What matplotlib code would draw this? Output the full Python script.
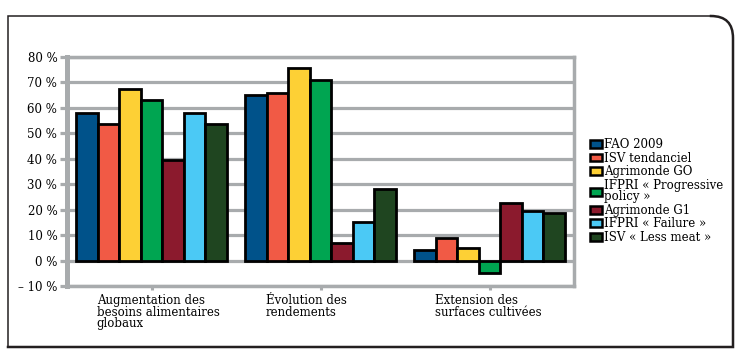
import numpy as np
import matplotlib
matplotlib.use("Agg")
import matplotlib.pyplot as plt
from matplotlib.path import Path
from matplotlib.patches import PathPatch

# Data (%)
categories = [
    "Augmentation des\nbesoins alimentaires\nglobaux",
    "Évolution des\nrendements",
    "Extension des\nsurfaces cultivées",
]
series_names = [
    "FAO 2009",
    "ISV tendanciel",
    "Agrimonde GO",
    "IFPRI « Progressive\npolicy »",
    "Agrimonde G1",
    "IFPRI « Failure »",
    "ISV « Less meat »",
]
fao_2009 = [58, 65, 4]
isv_tendanciel = [53.5, 66, 9]
agrimonde_go = [67.5, 75.5, 5]
ifpri_progressive = [63, 71, -5]
agrimonde_g1 = [39.5, 7, 22.5]
ifpri_failure = [58, 15, 19.5]
isv_less_meat = [53.5, 28, 18.5]
series_values = [fao_2009, isv_tendanciel, agrimonde_go, ifpri_progressive,
                 agrimonde_g1, ifpri_failure, isv_less_meat]
colors = ["#00528a", "#f15a45", "#fdd035", "#00a551", "#8b1a2d", "#4bc9f5", "#1f4520"]
yticks = [-10, 0, 10, 20, 30, 40, 50, 60, 70, 80]
ytick_labels = ["– 10 %", "0 %", "10 %", "20 %", "30 %", "40 %", "50 %", "60 %", "70 %", "80 %"]

W, H = 741, 362
GRAY = "#a8abad"
plt.rcParams["font.family"] = ["DejaVu Serif"]

fig = plt.figure(figsize=(W / 100, H / 100), dpi=100)

# outer frame with rounded top-right corner
def fx(x):
    return x / W

def fy(y):
    return 1 - y / H

r = 22
thin = Path([(fx(733 - r), fy(16)), (fx(8), fy(16)), (fx(8), fy(347))],
            [Path.MOVETO, Path.LINETO, Path.LINETO])
fig.patches.append(PathPatch(thin, transform=fig.transFigure, fill=False,
                             lw=1.1, ec="#231f20"))
thick = Path([(fx(733 - r), fy(16)), (fx(733), fy(16)), (fx(733), fy(16 + r)),
              (fx(733), fy(347)), (fx(8), fy(347))],
             [Path.MOVETO, Path.CURVE3, Path.CURVE3, Path.LINETO, Path.LINETO])
fig.patches.append(PathPatch(thick, transform=fig.transFigure, fill=False,
                             lw=1.8, ec="#231f20", capstyle="projecting"))

ax = fig.add_axes([fx(67), fy(286), (574 - 67) / W, (286 - 57) / H])

x = np.arange(len(categories))
n = len(series_names)
bw = 0.89 / n
for i, (name, vals, c) in enumerate(zip(series_names, series_values, colors)):
    ax.bar(x - 0.445 + bw * (i + 0.5), vals, width=bw, color=c, edgecolor="black",
           linewidth=2.0, label=name, zorder=3)

ax.set_xlim(-0.5, 2.5)
ax.set_ylim(-10, 80)
ax.set_yticks(yticks)
ax.set_yticklabels(ytick_labels)
ax.yaxis.grid(True, color=GRAY, linewidth=2.3, zorder=0)
ax.set_axisbelow(True)
for side in ["left", "right", "top", "bottom"]:
    ax.spines[side].set_color(GRAY)
    ax.spines[side].set_linewidth(2.5)
ax.spines["left"].set_linewidth(3.6)
ax.tick_params(axis="y", length=5, width=2.3, color=GRAY, pad=2, labelsize=8.5)
ax.set_xticks(x)
ax.set_xticklabels([])
ax.tick_params(axis="x", length=3, width=2.2, color=GRAY)

for i, lab in enumerate(categories):
    ax.text(i - 0.325, -0.035, lab, transform=ax.get_xaxis_transform(),
            ha="left", va="top", fontsize=8.5, linespacing=0.85)

leg = fig.legend(loc="upper left", bbox_to_anchor=(fx(590), fy(138)),
                 frameon=False, fontsize=8.5, handlelength=1.0, handleheight=0.65,
                 handletextpad=0.2, labelspacing=0.05, borderpad=0, borderaxespad=0)
for t in leg.get_texts():
    t.set_linespacing(0.85)
for h in leg.legend_handles:
    h.set_linewidth(1.8)

fig.savefig("out.png", dpi=100)
